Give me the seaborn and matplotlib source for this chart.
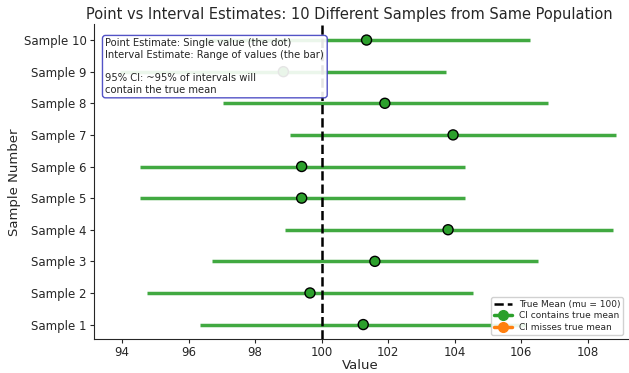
import matplotlib
matplotlib.use("Agg")
import matplotlib.pyplot as plt
import seaborn as sns
import pandas as pd
from matplotlib.lines import Line2D

samples = ["Sample 1", "Sample 2", "Sample 3", "Sample 4", "Sample 5",
           "Sample 6", "Sample 7", "Sample 8", "Sample 9", "Sample 10"]
point_est = [101.25, 99.65, 101.6, 103.8, 99.4, 99.4, 103.95, 101.9, 98.85, 101.35]
ci_lower = [96.35, 94.75, 96.7, 98.9, 94.55, 94.55, 99.05, 97.05, 93.95, 96.45]
ci_upper = [106.15, 104.55, 106.5, 108.75, 104.3, 104.3, 108.85, 106.8, 103.75, 106.25]
true_mean = 100

df = pd.DataFrame({"sample": samples, "y": range(len(samples)),
                   "est": point_est, "lo": ci_lower, "hi": ci_upper})
df["contains"] = (df["lo"] <= true_mean) & (df["hi"] >= true_mean)

sns.set_style("white")
fig, ax = plt.subplots(figsize=(6.29, 3.73), dpi=100)
fig.subplots_adjust(left=0.149, right=0.998, bottom=0.09, top=0.935)

green, orange = "#2ca02c", "#ff7f0e"
for _, r in df.iterrows():
    c = green if r["contains"] else orange
    ax.hlines(r["y"], r["lo"], r["hi"], color=c, lw=2.5, alpha=0.9, zorder=2)
sns.scatterplot(data=df, x="est", y="y", hue="contains",
                palette={True: green, False: orange}, s=52, edgecolor="black",
                linewidth=1, legend=False, zorder=3, ax=ax)
ax.axvline(true_mean, color="black", ls="--", lw=1.8, zorder=4)

ax.set_yticks(range(len(samples)))
ax.set_yticklabels(samples, fontsize=8.5)
ax.set_xticks(range(94, 110, 2))
ax.tick_params(axis="x", labelsize=8.5, pad=2)
ax.tick_params(axis="y", pad=2)
ax.tick_params(axis="both", length=3, width=0.8, left=True, bottom=True)
ax.set_xlim(93.15, 109.2)
ax.set_ylim(-0.47, 9.5)
ax.set_xlabel("Value", fontsize=9.5, labelpad=0)
ax.set_ylabel("Sample Number", fontsize=9.5, labelpad=2)
ax.set_title("Point vs Interval Estimates: 10 Different Samples from Same Population",
             fontsize=10.5, pad=4, x=0.478)
sns.despine(ax=ax)

handles = [
    Line2D([0], [0], color="black", ls="--", lw=1.8, label="True Mean (mu = 100)"),
    Line2D([0], [0], color=green, lw=2.5, marker="o", markersize=7, label="CI contains true mean"),
    Line2D([0], [0], color=orange, lw=2.5, marker="o", markersize=7, label="CI misses true mean"),
]
ax.legend(handles=handles, loc="lower right", fontsize=6.5, frameon=True,
          handlelength=2, borderpad=0.3, labelspacing=0.3, framealpha=0.9,
          bbox_to_anchor=(1.0, 0.0))

ax.text(0.022, 0.955,
        "Point Estimate: Single value (the dot)\nInterval Estimate: Range of values (the bar)\n\n95% CI: ~95% of intervals will\ncontain the true mean",
        transform=ax.transAxes, fontsize=7.2, va="top", ha="left",
        bbox=dict(boxstyle="round,pad=0.3", facecolor="white", edgecolor="#4040c0", alpha=0.9),
        zorder=5)

fig.savefig("out.png", dpi=100)
